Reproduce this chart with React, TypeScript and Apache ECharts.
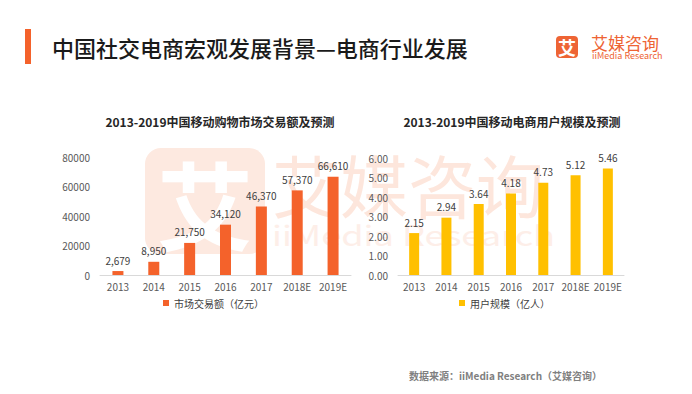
import React, { useEffect, useRef } from "react";
import * as echarts from "echarts";

const years = ["2013", "2014", "2015", "2016", "2017", "2018E", "2019E"];
const marketValues = [2679, 8950, 21750, 34120, 46370, 57370, 66610];
const userValues = [2.15, 2.94, 3.64, 4.18, 4.73, 5.12, 5.46];
const leftTitle = "2013-2019中国移动购物市场交易额及预测";
const rightTitle = "2013-2019中国移动电商用户规模及预测";
const leftLegend = "市场交易额（亿元）";
const rightLegend = "用户规模（亿人）";
const headerTitle = "中国社交电商宏观发展背景—电商行业发展";
const sourceText = "数据来源：iiMedia Research（艾媒咨询）";

const FONT = "'Noto Sans CJK SC', 'Noto Sans', sans-serif";
const ORANGE = "#f4622b";
const GOLD = "#ffc000";

export default function App() {
  const ref = useRef<HTMLDivElement>(null);
  useEffect(() => {
    if (!ref.current) return;
    const chart = echarts.init(ref.current, null, { renderer: "svg" });
    const axisLabel = { color: "#595959", fontSize: 10, fontFamily: FONT };
    chart.setOption({
      animation: false,
      backgroundColor: "#ffffff",
      textStyle: { fontFamily: FONT },
      title: [
        {
          text: leftTitle,
          left: 215,
          top: 110,
          textAlign: "center",
          textStyle: { fontSize: 12, fontWeight: "bold", color: "#262626", fontFamily: FONT },
        },
        {
          text: rightTitle,
          left: 507,
          top: 110,
          textAlign: "center",
          textStyle: { fontSize: 12, fontWeight: "bold", color: "#262626", fontFamily: FONT },
        },
      ],
      legend: [
        {
          data: [leftLegend],
          left: 158,
          top: 293,
          icon: "rect",
          itemWidth: 6,
          itemHeight: 6,
          itemGap: 4,
          textStyle: { fontSize: 10, color: "#404040", fontFamily: FONT },
        },
        {
          data: [rightLegend],
          left: 454,
          top: 293,
          icon: "rect",
          itemWidth: 6,
          itemHeight: 6,
          itemGap: 4,
          textStyle: { fontSize: 10, color: "#404040", fontFamily: FONT },
        },
      ],
      grid: [
        { left: 100, top: 157, width: 251, height: 118 },
        { left: 398, top: 158, width: 226, height: 117 },
      ],
      xAxis: [
        {
          type: "category",
          gridIndex: 0,
          data: years,
          axisTick: { show: false },
          axisLine: { lineStyle: { color: "#d9d9d9" } },
          axisLabel: { ...axisLabel, margin: 6, interval: 0 },
        },
        {
          type: "category",
          gridIndex: 1,
          data: years,
          axisTick: { show: false },
          axisLine: { lineStyle: { color: "#d9d9d9" } },
          axisLabel: { ...axisLabel, margin: 6, interval: 0 },
        },
      ],
      yAxis: [
        {
          type: "value",
          gridIndex: 0,
          min: 0,
          max: 80000,
          interval: 20000,
          splitLine: { show: false },
          axisLine: { show: false },
          axisTick: { show: false },
          axisLabel: { ...axisLabel, margin: 10, formatter: (v: number) => String(v) },
        },
        {
          type: "value",
          gridIndex: 1,
          min: 0,
          max: 6,
          interval: 1,
          splitLine: { show: false },
          axisLine: { show: false },
          axisTick: { show: false },
          axisLabel: { ...axisLabel, margin: 10, formatter: (v: number) => v.toFixed(2) },
        },
      ],
      series: [
        {
          name: leftLegend,
          type: "bar",
          xAxisIndex: 0,
          yAxisIndex: 0,
          data: marketValues,
          barWidth: 11,
          itemStyle: { color: ORANGE },
          z: 5,
          label: {
            show: true,
            position: "top",
            distance: 6,
            fontSize: 10,
            color: "#404040",
            fontFamily: FONT,
            formatter: (p: any) => Number(p.value).toLocaleString("en-US"),
          },
        },
        {
          name: rightLegend,
          type: "bar",
          xAxisIndex: 1,
          yAxisIndex: 1,
          data: userValues,
          barWidth: 10,
          itemStyle: { color: GOLD },
          z: 5,
          label: {
            show: true,
            position: "top",
            distance: 6,
            fontSize: 10,
            color: "#404040",
            fontFamily: FONT,
            formatter: (p: any) => Number(p.value).toFixed(2),
          },
        },
      ],
      graphic: [
        // watermark
        {
          type: "rect",
          z: -10,
          silent: true,
          shape: { x: 145, y: 148, width: 120, height: 106, r: 16 },
          style: { fill: "#fde9e0" },
        },
        {
          type: "text",
          z: -9,
          silent: true,
          x: 205,
          y: 201,
          style: {
            text: "艾",
            fontSize: 96,
            fontWeight: "bold",
            fontFamily: FONT,
            fill: "#ffffff",
            align: "center",
            verticalAlign: "middle",
          },
        },
        {
          type: "text",
          z: -10,
          silent: true,
          x: 272,
          y: 183,
          style: {
            text: "艾媒咨询",
            fontSize: 68,
            fontFamily: FONT,
            fill: "#fde6dc",
            verticalAlign: "middle",
          },
        },
        {
          type: "text",
          z: -10,
          silent: true,
          x: 272,
          y: 234,
          scaleX: 1.29,
          style: {
            text: "iiMedia Research",
            fontSize: 28,
            fontFamily: FONT,
            fill: "#fdeee8",
            verticalAlign: "middle",
          },
        },
        // header
        {
          type: "rect",
          shape: { x: 25, y: 29, width: 6, height: 35 },
          style: { fill: ORANGE },
        },
        {
          type: "text",
          x: 52,
          y: 47,
          style: {
            text: headerTitle,
            fontSize: 22,
            fontWeight: 500,
            fontFamily: FONT,
            fill: "#1a1a1a",
            verticalAlign: "middle",
          },
        },
        // logo
        {
          type: "rect",
          shape: { x: 556, y: 36, width: 22, height: 22, r: 4 },
          style: { fill: "#ee6434" },
        },
        {
          type: "text",
          x: 567,
          y: 47,
          style: {
            text: "艾",
            fontSize: 18,
            fontWeight: "bold",
            fontFamily: FONT,
            fill: "#ffffff",
            align: "center",
            verticalAlign: "middle",
          },
        },
        {
          type: "text",
          x: 591,
          y: 42,
          style: {
            text: "艾媒咨询",
            fontSize: 17,
            fontFamily: FONT,
            fill: "#ee6434",
            verticalAlign: "middle",
          },
        },
        {
          type: "text",
          x: 592,
          y: 55,
          style: {
            text: "iiMedia Research",
            fontSize: 9,
            fontFamily: FONT,
            fill: "#ee6434",
            verticalAlign: "middle",
          },
        },
        // source
        {
          type: "text",
          x: 409,
          y: 375,
          style: {
            text: sourceText,
            fontSize: 10,
            fontWeight: "bold",
            fontFamily: FONT,
            fill: "#808080",
            verticalAlign: "middle",
          },
        },
      ],
    });
    return () => chart.dispose();
  }, []);
  return (
    <div
      ref={ref}
      style={{ position: "fixed", left: 0, top: 0, width: 692, height: 394 }}
    />
  );
}
